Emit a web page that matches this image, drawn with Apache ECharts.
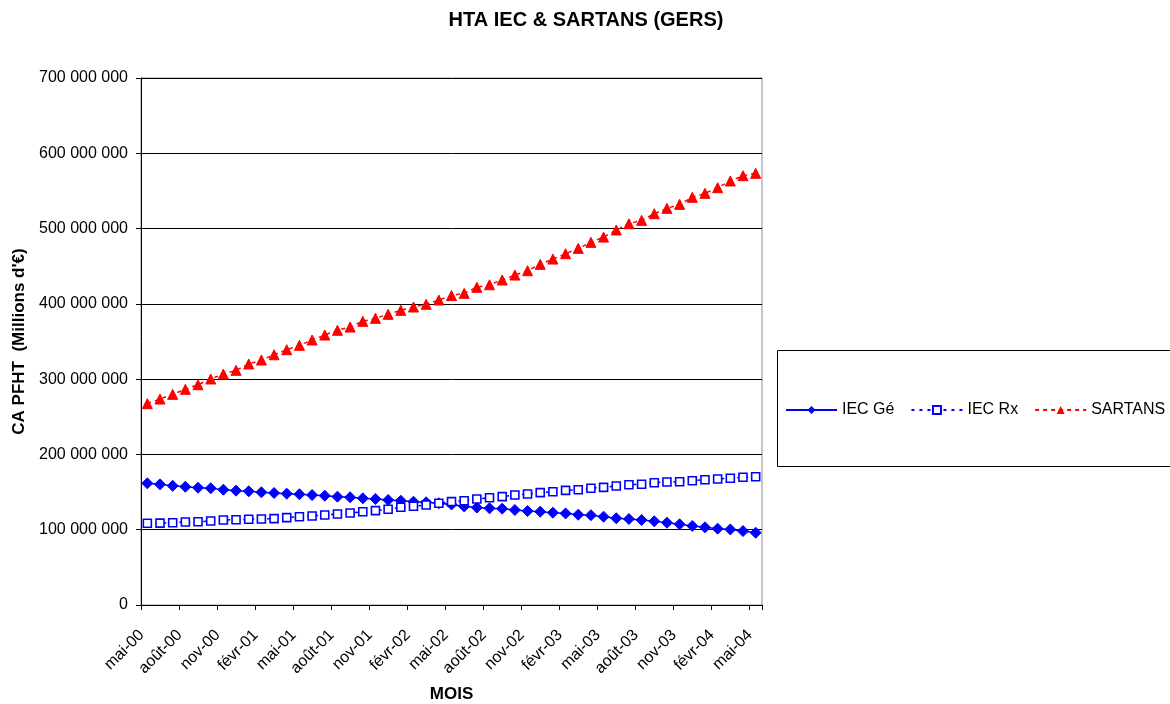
<!DOCTYPE html>
<html>
<head>
<meta charset="utf-8">
<script src="https://cdn.jsdelivr.net/npm/echarts@6/dist/echarts.min.js"></script>
<style>
  html, body { margin: 0; padding: 0; background: #fff; }
  #chart { width: 1170px; height: 704px; }
</style>
</head>
<body>
<div id="chart"></div>
<script>
// Monthly sales, May 2000 to May 2004 (€)
const monthNames = ['janv', 'févr', 'mars', 'avr', 'mai', 'juin', 'juil', 'août', 'sept', 'oct', 'nov', 'déc'];
const categories = [];
for (let k = 0; k < 49; k++) {
  const m = (4 + k) % 12;
  const y = Math.floor((4 + k) / 12);
  categories.push(monthNames[m] + '-0' + y);
}

// values in millions, scaled to € below
const iecGe = [
  161.6, 160.3, 158.3, 157.1, 155.8, 155.0, 153.2, 151.9, 151.0, 149.7,
  148.8, 147.9, 147.1, 146.1, 145.2, 143.9, 143.1, 141.7, 140.8, 139.5,
  138.5, 137.2, 136.4, 135.1, 133.5, 130.9, 129.4, 128.4, 128.0, 126.2,
  124.8, 123.9, 122.6, 121.6, 120.0, 119.3, 117.3, 115.2, 114.2, 112.9,
  111.2, 109.3, 107.2, 105.0, 103.2, 101.4, 100.4, 98.2, 96.0
];
const iecRx = [
  108.5, 108.8, 109.3, 110.2, 110.6, 111.6, 112.9, 113.3, 113.8, 114.2,
  114.7, 116.0, 117.3, 118.2, 119.5, 120.9, 122.2, 123.9, 125.3, 127.1,
  129.8, 131.1, 132.8, 135.1, 137.3, 138.5, 140.8, 142.5, 143.9, 146.1,
  147.4, 149.2, 150.5, 152.3, 153.1, 155.0, 156.3, 158.1, 159.8, 160.3,
  162.4, 163.4, 163.8, 165.1, 166.4, 167.4, 168.3, 169.6, 170.4
];
const sartans = [
  267.4, 273.6, 279.8, 286.5, 292.6, 300.2, 306.8, 311.7, 320.1, 325.4,
  332.4, 339.1, 344.9, 352.0, 358.6, 364.9, 369.2, 376.8, 380.8, 386.1,
  391.4, 395.8, 399.4, 405.1, 411.0, 414.0, 422.0, 425.4, 431.7, 438.3,
  444.0, 452.5, 459.5, 466.6, 473.7, 481.7, 488.7, 498.1, 506.4, 510.9,
  519.7, 526.9, 532.2, 541.5, 546.8, 554.3, 563.2, 570.2, 573.4
];
const seriesNames = ['IEC Gé', 'IEC Rx', 'SARTANS'];
const yTicks = { min: 0, max: 700000000, interval: 100000000 };

const toEuro = arr => arr.map(v => Math.round(v * 1e6));
const fmt = v => String(v).replace(/\B(?=(\d{3})+(?!\d))/g, ' ');

const font = '"Liberation Sans", Arial, sans-serif';
const chart = echarts.init(document.getElementById('chart'), null, { renderer: 'canvas' });

chart.setOption({
  animation: false,
  backgroundColor: '#fff',
  textStyle: { fontFamily: font, color: '#000' },
  title: {
    text: 'HTA IEC & SARTANS (GERS)',
    left: 581, top: 5, textAlign: 'center',
    textStyle: { fontFamily: font, fontSize: 20, fontWeight: 'bold', color: '#000' }
  },
  grid: {
    left: 141, right: 408, top: 78, bottom: 99,
    outerBoundsMode: 'none', containLabel: false,
    show: true, borderColor: '#8c8c8c', borderWidth: 1, backgroundColor: '#fff'
  },
  graphic: [{
    type: 'rect', left: 777, top: 350, z: -1,
    shape: { width: 420, height: 116 },
    style: { fill: '#fff', stroke: '#000', lineWidth: 1 }
  }],
  legend: {
    left: 780, top: 397, width: 600,
    itemWidth: 51, itemHeight: 10, itemGap: 16,
    textStyle: { fontFamily: font, fontSize: 16, color: '#000' },
    data: seriesNames
  },
  xAxis: {
    type: 'category',
    data: categories,
    boundaryGap: true,
    name: 'MOIS', nameLocation: 'middle', nameGap: 81,
    nameTextStyle: { fontFamily: font, fontSize: 17, fontWeight: 'bold', color: '#000' },
    axisLine: { lineStyle: { color: '#000', width: 1 } },
    axisTick: { show: true, interval: 2, length: 5, alignWithLabel: false, lineStyle: { color: '#000' } },
    axisLabel: {
      interval: 2, rotate: 45, fontSize: 16, color: '#000', margin: 22,
      padding: [0, 8, 0, 0], fontFamily: font
    },
    splitLine: { show: false }
  },
  yAxis: {
    type: 'value',
    min: yTicks.min, max: yTicks.max, interval: yTicks.interval,
    name: "CA PFHT  (Millions d'€)", nameLocation: 'middle', nameGap: 108,
    nameTextStyle: { fontFamily: font, fontSize: 17, fontWeight: 'bold', color: '#000' },
    axisLine: { show: true, lineStyle: { color: '#000', width: 1 } },
    axisTick: { show: true, length: 5, lineStyle: { color: '#000' } },
    axisLabel: { fontSize: 16, color: '#000', margin: 13, formatter: fmt, fontFamily: font },
    splitLine: { show: true, lineStyle: { color: '#000', width: 1 } }
  },
  series: [
    {
      name: seriesNames[0], type: 'line', data: toEuro(iecGe),
      symbol: 'diamond', symbolSize: 11, showAllSymbol: true,
      lineStyle: { color: '#0000ff', width: 1.5, type: 'solid' },
      itemStyle: { color: '#0000ff', borderColor: '#0000ff' }
    },
    {
      name: seriesNames[1], type: 'line', data: toEuro(iecRx),
      symbol: 'rect', symbolSize: 8, showAllSymbol: true,
      lineStyle: { color: '#0000ff', width: 1.5, type: [3, 5] },
      itemStyle: { color: '#fff', borderColor: '#0000ff', borderWidth: 1.6 }
    },
    {
      name: seriesNames[2], type: 'line', data: toEuro(sartans),
      symbol: 'triangle', symbolSize: 10, showAllSymbol: true,
      lineStyle: { color: '#ff0000', width: 1.5, type: [4, 4] },
      itemStyle: { color: '#ff0000', borderColor: '#ff0000' }
    }
  ]
});
</script>
</body>
</html>
